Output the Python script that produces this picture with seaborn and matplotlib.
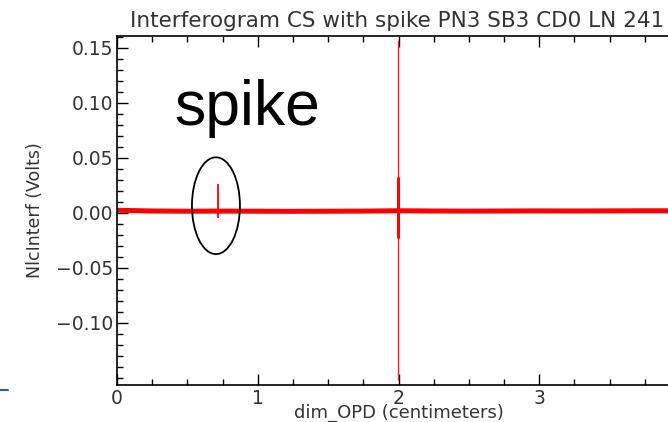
import matplotlib
matplotlib.use("Agg")
import matplotlib.pyplot as plt
import seaborn as sns
import pandas as pd
from matplotlib.patches import Ellipse
from matplotlib.lines import Line2D
from matplotlib.ticker import MultipleLocator

# ---- data ----
baseline_opd = [0.0, 0.1, 0.25, 0.5, 0.75, 1.0, 1.25, 1.5, 1.75, 1.98,
                2.02, 2.25, 2.5, 2.75, 3.0, 3.25, 3.5, 3.75, 4.0]
baseline_volts = [0.0025, 0.0022, 0.0018, 0.0016, 0.0017, 0.0016, 0.0015,
                  0.0016, 0.0017, 0.0020, 0.0020, 0.0018, 0.0017, 0.0018,
                  0.0019, 0.0018, 0.0019, 0.0020, 0.0020]
spike_opd = 0.715
spike_range = [-0.0045, 0.026]
burst_opd = 1.995
burst_core_range = [-0.023, 0.033]
burst_full_range = [-0.152, 0.157]

title_text = "Interferogram CS with spike PN3 SB3 CD0 LN 241"
xlabel_text = "dim_OPD (centimeters)"
ylabel_text = "NlcInterf (Volts)"
x_ticks = [0, 1, 2, 3]
y_ticks = [-0.10, -0.05, 0.00, 0.05, 0.10, 0.15]
annotation_text = "spike"

# ---- figure ----
sns.set_style("ticks")
plt.rcParams["font.family"] = ["DejaVu Sans"]

W, H = 668, 422
fig = plt.figure(figsize=(W / 100, H / 100), dpi=100)
ax = fig.add_axes([117 / W, 1 - 385 / H, 563 / W, (385 - 36) / H])

df = pd.DataFrame({"opd": baseline_opd, "volts": baseline_volts})
sns.lineplot(data=df, x="opd", y="volts", ax=ax, color="#ff0000",
             linewidth=3.6, estimator=None, sort=False)
ax.vlines(burst_opd, burst_full_range[0], burst_full_range[1],
          color="#ff2020", linewidth=1.0)
ax.vlines(burst_opd, burst_core_range[0], burst_core_range[1],
          color="#ff0000", linewidth=2.2)
ax.vlines(spike_opd, spike_range[0], spike_range[1],
          color="#ff0000", linewidth=1.3)

ax.add_patch(Ellipse((0.703, 0.0066), 0.341, 0.088, fill=False,
                     edgecolor="black", linewidth=1.3, zorder=5))
ax.text(0.41, 0.080, annotation_text, fontsize=45, family="Liberation Sans",
        color="black", va="baseline", ha="left")

ax.set_xlim(0, 4)
ax.set_ylim(-0.1564, 0.1609)
ax.set_xticks(x_ticks)
ax.set_xticklabels([str(t) for t in x_ticks])
ax.set_yticks(y_ticks)
ax.set_yticklabels(["\u22120.10", "\u22120.05", "0.00", "0.05", "0.10", "0.15"])
ax.xaxis.set_minor_locator(MultipleLocator(0.25))
ax.yaxis.set_minor_locator(MultipleLocator(0.01))
ax.tick_params(which="both", direction="in", top=True, right=True,
               color="black", width=1.0)
ax.tick_params(which="major", length=8, labelsize=13.5, pad=3,
               labelcolor="#333333")
ax.tick_params(which="minor", length=4)
for s in ax.spines.values():
    s.set_color("black")
    s.set_linewidth(1.2)

ax.set_xlabel(xlabel_text, fontsize=13, labelpad=-3, color="#333333")
ax.set_ylabel(ylabel_text, fontsize=12.5, labelpad=8, color="#333333")

fig.text(130 / W, 1 - 21 / H, title_text, fontsize=15.5, ha="left",
         va="center", color="#333333")

fig.add_artist(Line2D([0, 8 / W], [1 - 390 / H, 1 - 390 / H],
                      color="#2a5aa8", linewidth=1.5))

fig.savefig("out.png", dpi=100)
